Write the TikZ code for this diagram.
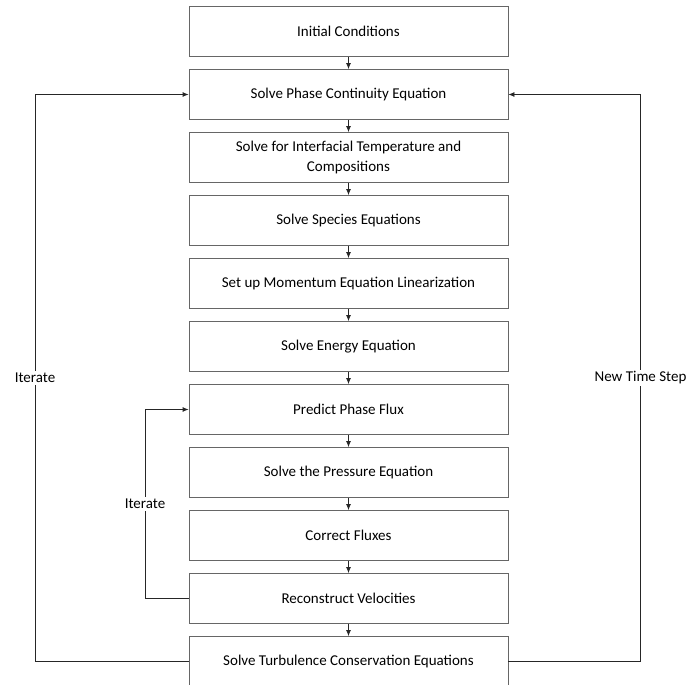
\documentclass[tikz,border=0pt]{standalone}
\usepackage{fontspec}
\setmainfont{Carlito}
\usetikzlibrary{positioning,arrows.meta}

\begin{document}
\begin{tikzpicture}[x=1pt, y=1pt, >={Latex[length=6pt,width=5pt]}, node distance=12.2pt, line width=0.8pt,
    stage/.style={draw=black!60, minimum width=319pt, minimum height=50pt, align=center, inner sep=2pt, font=\fontsize{15}{20}\selectfont},
    flow/.style={->, black!85},
    looplabel/.style={fill=white, text=black, inner sep=2pt, font=\fontsize{15}{18}\selectfont}]
        \useasboundingbox (0,0) rectangle (689,-685);

        % Nodes
        \node[stage] (init) at (348.5,-31.5) {Initial Conditions};
        \node[stage, below=of init] (cont) {Solve Phase Continuity Equation};
        \node[stage, below=of cont] (interf) {Solve for Interfacial Temperature and\\Compositions};
        \node[stage, below=of interf] (species) {Solve Species Equations};
        \node[stage, below=of species] (momentum) {Set up Momentum Equation Linearization};
        \node[stage, below=of momentum] (energy) {Solve Energy Equation};
        \node[stage, below=of energy] (predict) {Predict Phase Flux};
        \node[stage, below=of predict] (pressure) {Solve the Pressure Equation};
        \node[stage, below=of pressure] (correct) {Correct Fluxes};
        \node[stage, below=of correct] (recon) {Reconstruct Velocities};
        \node[stage, below=of recon] (turb) {Solve Turbulence Conservation Equations};

        % Main sequence
        \foreach \a/\b in {init/cont, cont/interf, interf/species, species/momentum, momentum/energy,
                energy/predict, predict/pressure, pressure/correct, correct/recon, recon/turb}
            \draw[flow] (\a) -- (\b);

        % Loop columns
        \coordinate (outerL) at (35,0);
        \coordinate (outerR) at (640.5,0);
        \coordinate (innerL) at (145,0);

        % Outer iteration
        \draw[flow] (turb.west) -- (turb.west -| outerL) -- node[looplabel] {Iterate} (cont.west -| outerL) -- (cont.west);

        % Time stepping
        \draw[flow] (turb.east) -- (turb.east -| outerR) -- node[looplabel] {New Time Step} (cont.east -| outerR) -- (cont.east);

        % Pressure-velocity coupling
        \draw[flow] (recon.west) -- (recon.west -| innerL) -- node[looplabel] {Iterate} (predict.west -| innerL) -- (predict.west);

    \end{tikzpicture}
\end{document}
